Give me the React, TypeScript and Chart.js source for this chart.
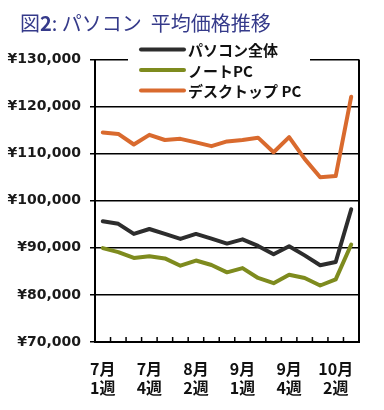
import React, { useEffect, useRef } from 'react';
import { Chart, registerables } from 'chart.js';

Chart.register(...registerables);

// ---- data ----
const weekLabels: (string | string[])[] = [
  ['7月', '1週'], '', '', ['7月', '4週'], '', '', ['8月', '2週'], '', '',
  ['9月', '1週'], '', '', ['9月', '4週'], '', '', ['10月', '2週'], '',
];
const totalPC = [95650, 95100, 92950, 94000, 92950, 91900, 92950, 91950, 90900, 91800, 90400, 88650, 90350, 88400, 86300, 87000, 98200];
const notePC = [89950, 89100, 87850, 88200, 87750, 86200, 87300, 86350, 84800, 85700, 83600, 82500, 84300, 83600, 82000, 83300, 90700];
const desktopPC = [114500, 114200, 111950, 114000, 112900, 113150, 112400, 111600, 112600, 112900, 113400, 110300, 113500, 108900, 105000, 105250, 122100];
const seriesNames = ['パソコン全体', 'ノートPC', 'デスクトップ PC'];
const seriesColors = ['#2d2d2d', '#7e8b1e', '#d96a2e'];
const yMin = 70000;
const yMax = 130000;
const yStep = 10000;
const titleParts = [
  { text: '図', bold: false },
  { text: '2', bold: true },
  { text: ': パソコン  平均価格推移', bold: false },
];

const JP = '"Noto Sans CJK JP", "Noto Sans", sans-serif';

const framePlugin = {
  id: 'frame',
  beforeDatasetsDraw(chart: any) {
    const { ctx, chartArea } = chart;
    const x = chart.scales.x;
    ctx.save();
    ctx.strokeStyle = '#000';
    ctx.lineWidth = 2;
    ctx.beginPath();
    ctx.moveTo(chartArea.right, chartArea.top);
    ctx.lineTo(chartArea.right, chartArea.bottom);
    ctx.stroke();
    ctx.lineWidth = 1.5;
    const n = chart.data.labels.length;
    for (let i = 1; i < n; i++) {
      const px = (x.getPixelForValue(i - 1) + x.getPixelForValue(i)) / 2;
      ctx.beginPath();
      ctx.moveTo(px, chartArea.bottom);
      ctx.lineTo(px, chartArea.bottom - 5);
      ctx.stroke();
    }
    ctx.restore();
  },
};

const legendPlugin = {
  id: 'innerLegend',
  afterDraw(chart: any) {
    const { ctx } = chart;
    ctx.save();
    ctx.fillStyle = '#fff';
    ctx.fillRect(128, 38, 182, 60);
    chart.data.datasets.forEach((ds: any, i: number) => {
      const y = 49.5 + i * 20.5;
      ctx.strokeStyle = ds.borderColor;
      ctx.lineWidth = 4;
      ctx.lineCap = 'round';
      ctx.beginPath();
      ctx.moveTo(141, y);
      ctx.lineTo(184, y);
      ctx.stroke();
      ctx.fillStyle = '#111';
      ctx.font = `bold 15px ${JP}`;
      ctx.textBaseline = 'middle';
      ctx.textAlign = 'left';
      ctx.fillText(ds.label, 188, y + 1);
    });
    ctx.restore();
  },
};

const titlePlugin = {
  id: 'mixedTitle',
  afterDraw(chart: any) {
    const { ctx } = chart;
    ctx.save();
    ctx.fillStyle = '#353a8a';
    ctx.textBaseline = 'middle';
    ctx.textAlign = 'left';
    let x = 20;
    titleParts.forEach((p) => {
      ctx.font = `${p.bold ? 'bold ' : ''}20px ${JP}`;
      ctx.fillText(p.text, x, 23);
      x += ctx.measureText(p.text).width;
    });
    ctx.restore();
  },
};

export default function App() {
  const ref = useRef<HTMLCanvasElement>(null);
  useEffect(() => {
    if (!ref.current) return;
    const chart = new Chart(ref.current, {
      type: 'line',
      data: {
        labels: weekLabels,
        datasets: [
          { label: seriesNames[0], data: totalPC, borderColor: seriesColors[0], backgroundColor: seriesColors[0] },
          { label: seriesNames[1], data: notePC, borderColor: seriesColors[1], backgroundColor: seriesColors[1] },
          { label: seriesNames[2], data: desktopPC, borderColor: seriesColors[2], backgroundColor: seriesColors[2] },
        ].map((d) => ({ ...d, borderWidth: 4, pointRadius: 0, tension: 0, borderJoinStyle: 'round' as const, borderCapStyle: 'round' as const })),
      },
      options: {
        responsive: false,
        animation: false,
        layout: { padding: { top: 59.5, right: 25, left: 0, bottom: 0 } },
        plugins: { legend: { display: false }, title: { display: false }, tooltip: { enabled: false } },
        scales: {
          x: {
            type: 'category',
            offset: true,
            grid: { display: false, offset: true },
            border: { display: true, color: '#000', width: 2 },
            ticks: {
              autoSkip: false,
              maxRotation: 0,
              minRotation: 0,
              padding: 10,
              color: '#111',
              font: { family: JP, size: 16, weight: 'bold', lineHeight: 1.15 },
            },
            afterFit(scale: any) { scale.height = 68; },
          },
          y: {
            min: yMin,
            max: yMax,
            grid: { color: '#000', lineWidth: 1.5, tickLength: 5, tickColor: '#000', drawTicks: true },
            border: { display: true, color: '#000', width: 2 },
            ticks: {
              stepSize: yStep,
              padding: 9,
              color: '#1a1a1a',
              font: { family: '"DejaVu Sans", sans-serif', size: 14, weight: 'bold' },
              callback: (v: any) => '¥' + Number(v).toLocaleString('en-US'),
            },
            afterFit(scale: any) { scale.width = 95; },
          },
        },
      },
      plugins: [framePlugin, legendPlugin, titlePlugin],
    });
    return () => chart.destroy();
  }, []);
  return (
    <canvas
      ref={ref}
      width={384}
      height={410}
      style={{ position: 'absolute', left: 0, top: 0, width: 384, height: 410, background: '#fff' }}
    />
  );
}
